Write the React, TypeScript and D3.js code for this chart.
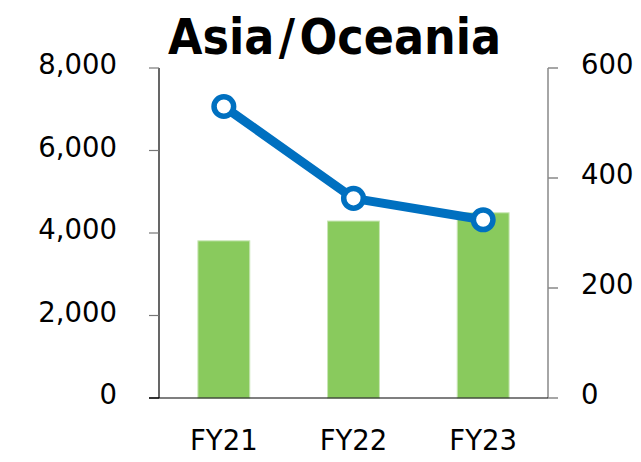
import React from "react";
import * as d3 from "d3";

const categories = ["FY21", "FY22", "FY23"];
const barValues = [3810, 4290, 4490];
const lineValues = [530, 363, 324];
const leftTicks = [0, 2000, 4000, 6000, 8000];
const rightTicks = [0, 200, 400, 600];
const title = "Asia/Oceania";

const W = 641;
const H = 462;
const M = { left: 159, right: 548, top: 68, bottom: 398 };
const FONT = "'DejaVu Sans', Verdana, sans-serif";

export default function App() {
  const x = d3
    .scaleBand<string>()
    .domain(categories)
    .range([M.left, M.right])
    .paddingInner(0.6)
    .paddingOuter(0.3);
  const yL = d3.scaleLinear().domain([0, 8000]).range([M.bottom, M.top]);
  const yR = d3.scaleLinear().domain([0, 600]).range([M.bottom, M.top]);
  const fmt = d3.format(",");

  const line = d3
    .line<number>()
    .x((_, i) => (x(categories[i]) as number) + x.bandwidth() / 2)
    .y((d) => yR(d));

  const [t1, t2] = title.split("/");

  return (
    <svg
      width={W}
      height={H}
      style={{ position: "absolute", left: 0, top: 0, background: "#fff" }}
      fontFamily={FONT}
    >
      <g transform="translate(334.5,54) scale(0.9,1)">
        <text x={0} y={0} textAnchor="middle" fontSize={49.5} fontWeight="bold" fill="#000">
          <tspan>{t1}</tspan>
          <tspan dx={5}>/</tspan>
          <tspan dx={5}>{t2}</tspan>
        </text>
      </g>

      {categories.map((c, i) => (
        <rect
          key={c}
          x={x(c)}
          y={yL(barValues[i])}
          width={x.bandwidth()}
          height={yL(0) - yL(barValues[i])}
          fill="#89CA5D"
          stroke="#C8E6B4"
          strokeWidth={1}
        />
      ))}

      {/* Left axis */}
      <line x1={M.left} x2={M.left} y1={M.top} y2={M.bottom} stroke="#000" strokeWidth={1.2} />
      {leftTicks.map((t) => (
        <g key={t}>
          <line
            x1={M.left - 10}
            x2={M.left}
            y1={yL(t)}
            y2={yL(t)}
            stroke={t === 0 ? "#000" : "#777"}
            strokeWidth={1.2}
          />
          <text
            x={117}
            y={yL(t) - 4}
            textAnchor="end"
            dominantBaseline="central"
            fontSize={27.5}
            fill="#000"
          >
            {fmt(t)}
          </text>
        </g>
      ))}

      {/* Right axis */}
      <line x1={M.right} x2={M.right} y1={M.top} y2={M.bottom} stroke="#898989" strokeWidth={1.5} />
      {rightTicks.map((t) => (
        <g key={t}>
          <line
            x1={M.right}
            x2={M.right + 10}
            y1={yR(t)}
            y2={yR(t)}
            stroke="#898989"
            strokeWidth={1.5}
          />
          <text
            x={581}
            y={yR(t) - 4}
            textAnchor="start"
            dominantBaseline="central"
            fontSize={27.5}
            fill="#000"
          >
            {t}
          </text>
        </g>
      ))}

      {/* Bottom axis */}
      <line x1={M.left - 10} x2={M.right} y1={M.bottom} y2={M.bottom} stroke="#000" strokeWidth={1.2} />
      {categories.map((c) => (
        <text
          key={c}
          x={(x(c) as number) + x.bandwidth() / 2}
          y={440}
          textAnchor="middle"
          dominantBaseline="central"
          fontSize={27.5}
          fill="#000"
        >
          {c}
        </text>
      ))}

      {/* Line */}
      <path d={line(lineValues) || ""} fill="none" stroke="#0070C0" strokeWidth={9} strokeLinejoin="round" />
      {lineValues.map((v, i) => (
        <circle
          key={i}
          cx={(x(categories[i]) as number) + x.bandwidth() / 2}
          cy={yR(v)}
          r={9.8}
          fill="#fff"
          stroke="#0070C0"
          strokeWidth={5.5}
        />
      ))}
    </svg>
  );
}
